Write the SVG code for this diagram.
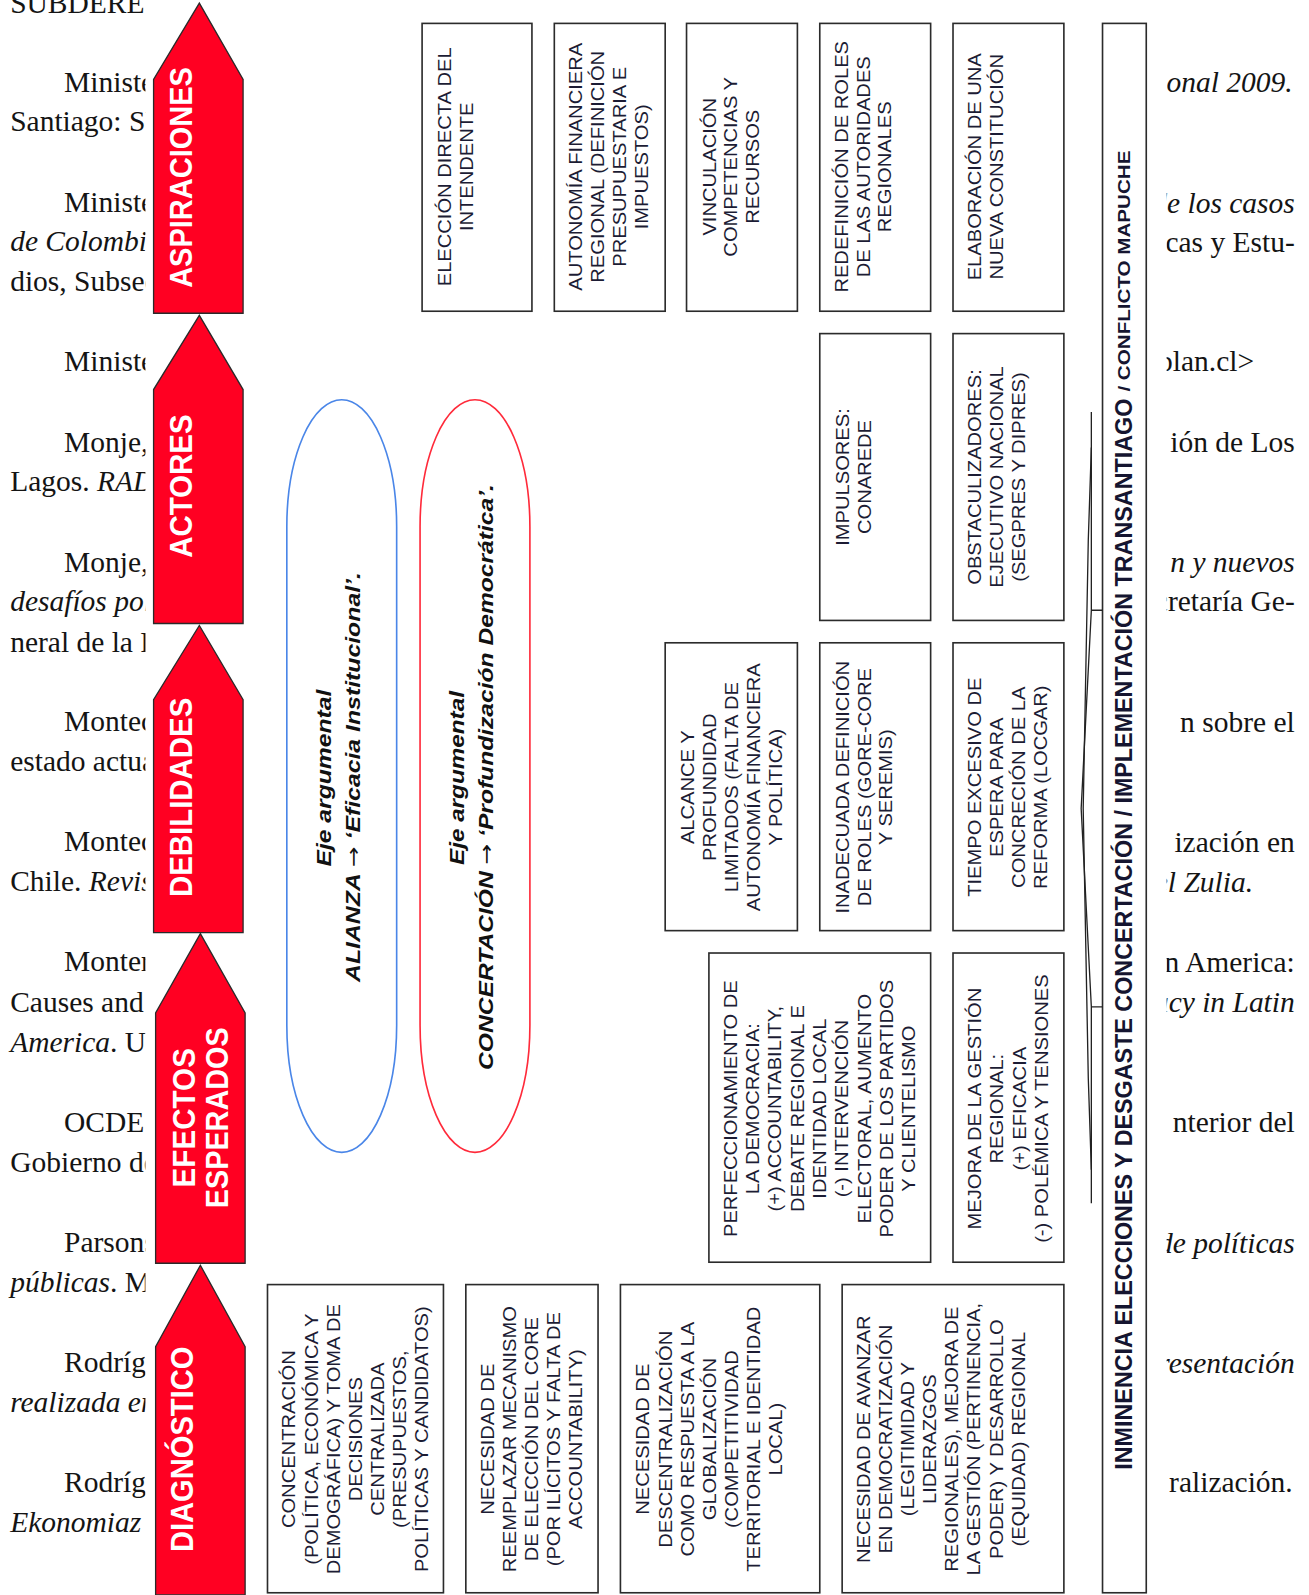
<svg xmlns="http://www.w3.org/2000/svg" width="1309" height="1595" viewBox="0 0 1309 1595">
<style>
.bib{font-family:"Liberation Serif","Times New Roman",serif;font-size:29px;fill:#141414}
.it{font-style:italic}
.arrow{fill:#ff0022;stroke:#2a2a2a;stroke-width:1.3}
.al{font-family:"Liberation Sans",Arial,sans-serif;font-weight:bold;font-size:31px;fill:#ffffff;text-anchor:middle}
.box{fill:#ffffff;stroke:#2b2b2b;stroke-width:1.6}
.bt{font-family:"Liberation Sans",Arial,sans-serif;font-size:18px;fill:#1c1c34;text-anchor:middle}
.et{font-family:"Liberation Sans",Arial,sans-serif;font-size:19px;font-weight:bold;font-style:italic;fill:#111;text-anchor:middle}
.ar{font-family:"DejaVu Sans",sans-serif;font-style:normal;font-weight:normal}
.tt{font-family:"Liberation Sans",Arial,sans-serif;font-weight:bold;fill:#151530}
.brace{fill:none;stroke:#222;stroke-width:1.3}
</style>
<defs>
<clipPath id="clipL"><rect x="0" y="0" width="143" height="1568"/></clipPath>
<clipPath id="clipR"><rect x="1147" y="0" width="140" height="1568"/></clipPath>
</defs>
<rect x="0" y="0" width="1309" height="1595" fill="#ffffff"/>
<g transform="scale(1.01709)">
<g id="bibliography-left" clip-path="url(#clipL)" class="bib">
<text x="10" y="13">SUBDERE</text>
<text x="63" y="90">Ministerio</text>
<text x="10" y="129">Santiago: SUBDERE</text>
<text x="63" y="208">Ministerio</text>
<text x="10" y="247" class="it">de Colombia</text>
<text x="10" y="286">dios, Subsecretaría</text>
<text x="63" y="365">Ministerio</text>
<text x="63" y="444">Monje, P.</text>
<text x="10" y="483">Lagos. <tspan class="it">RAD</tspan></text>
<text x="63" y="562">Monje, P.</text>
<text x="10" y="601" class="it">desafíos pol</text>
<text x="10" y="641">neral de la P</text>
<text x="63" y="719">Montecinos</text>
<text x="10" y="758">estado actual</text>
<text x="63" y="837">Montecinos</text>
<text x="10" y="876">Chile. <tspan class="it">Revista</tspan></text>
<text x="63" y="955">Montero</text>
<text x="10" y="995">Causes and</text>
<text x="10" y="1034"><tspan class="it">America</tspan>. U</text>
<text x="63" y="1113">OCDE</text>
<text x="10" y="1152">Gobierno de</text>
<text x="63" y="1231">Parsons</text>
<text x="10" y="1270"><tspan class="it">públicas</tspan>. M</text>
<text x="63" y="1349">Rodríguez</text>
<text x="10" y="1388" class="it">realizada en</text>
<text x="63" y="1467">Rodríguez</text>
<text x="10" y="1506" class="it">Ekonomiaz</text>
</g>
<g id="bibliography-right" clip-path="url(#clipR)" class="bib" text-anchor="end">
<text x="1271" y="90" class="it">onal 2009.</text>
<text x="1273" y="209" class="it">de los casos</text>
<text x="1273" y="248">icas y Estu-</text>
<text x="1233" y="365">plan.cl&gt;</text>
<text x="1273" y="444">ión de Los</text>
<text x="1273" y="562" class="it">n y nuevos</text>
<text x="1273" y="601">cretaría Ge-</text>
<text x="1273" y="720">n sobre el</text>
<text x="1273" y="838">ización en</text>
<text x="1232" y="877" class="it">del Zulia.</text>
<text x="1273" y="956">n America:</text>
<text x="1273" y="995" class="it">acy in Latin</text>
<text x="1273" y="1113">nterior del</text>
<text x="1273" y="1232" class="it">de políticas</text>
<text x="1273" y="1350" class="it">presentación</text>
<text x="1271" y="1467">ralización.</text>
</g>

<g id="arrow-aspiraciones">
<path class="arrow" d="M196,3 L239,78 L239,308 L151,308 L151,78 Z"/>
<text class="al" transform="translate(189,174.5) rotate(-90)" textLength="217" lengthAdjust="spacingAndGlyphs">ASPIRACIONES</text>
</g>
<g id="arrow-actores">
<path class="arrow" d="M196,310 L239,383 L239,613 L151,613 L151,383 Z"/>
<text class="al" transform="translate(189,478) rotate(-90)" textLength="141" lengthAdjust="spacingAndGlyphs">ACTORES</text>
</g>
<g id="arrow-debilidades">
<path class="arrow" d="M196,615 L239,688 L239,917 L151,917 L151,688 Z"/>
<text class="al" transform="translate(189,784) rotate(-90)" textLength="196" lengthAdjust="spacingAndGlyphs">DEBILIDADES</text>
</g>
<g id="arrow-efectos">
<path class="arrow" d="M197,918 L241,996 L241,1242 L153,1242 L153,996 Z"/>
<text class="al" transform="translate(192,1099) rotate(-90)" textLength="137" lengthAdjust="spacingAndGlyphs">EFECTOS</text>
<text class="al" transform="translate(224,1099) rotate(-90)" textLength="178" lengthAdjust="spacingAndGlyphs">ESPERADOS</text>
</g>
<g id="arrow-diagnostico">
<path class="arrow" d="M197,1244 L241,1324 L241,1568 L153,1568 L153,1324 Z"/>
<text class="al" transform="translate(190,1425) rotate(-90)" textLength="202" lengthAdjust="spacingAndGlyphs">DIAGNÓSTICO</text>
</g>

<g id="asp-1"><rect class="box" x="415" y="23" width="108" height="283"/>
<text class="bt" transform="translate(443.5,164) rotate(-90) scale(1.1,1)"><tspan x="0" y="0">ELECCIÓN DIRECTA DEL</tspan><tspan x="0" dy="21.5">INTENDENTE</tspan></text></g>
<g id="asp-2"><rect class="box" x="545" y="23" width="109" height="283"/>
<text class="bt" transform="translate(572.5,164) rotate(-90) scale(1.1,1)"><tspan x="0" y="0">AUTONOMÍA FINANCIERA</tspan><tspan x="0" dy="21.5">REGIONAL (DEFINICIÓN</tspan><tspan x="0" dy="21.5">PRESUPUESTARIA E</tspan><tspan x="0" dy="21.5">IMPUESTOS)</tspan></text></g>
<g id="asp-3"><rect class="box" x="675" y="23" width="109" height="283"/>
<text class="bt" transform="translate(703.5,164) rotate(-90) scale(1.1,1)"><tspan x="0" y="0">VINCULACIÓN</tspan><tspan x="0" dy="21.5">COMPETENCIAS Y</tspan><tspan x="0" dy="21.5">RECURSOS</tspan></text></g>
<g id="asp-4"><rect class="box" x="806" y="23" width="109" height="283"/>
<text class="bt" transform="translate(833.5,164) rotate(-90) scale(1.1,1)"><tspan x="0" y="0">REDEFINICIÓN DE ROLES</tspan><tspan x="0" dy="21.5">DE LAS AUTORIDADES</tspan><tspan x="0" dy="21.5">REGIONALES</tspan></text></g>
<g id="asp-5"><rect class="box" x="937" y="23" width="109" height="283"/>
<text class="bt" transform="translate(964.5,164) rotate(-90) scale(1.1,1)"><tspan x="0" y="0">ELABORACIÓN DE UNA</tspan><tspan x="0" dy="21.5">NUEVA CONSTITUCIÓN</tspan></text></g>

<g id="eje-alianza"><rect x="282" y="393" width="108" height="740" rx="54" ry="125" fill="none" stroke="#4a86e8" stroke-width="1.6"/>
<text class="et" transform="translate(325,765) rotate(-90)" textLength="174" lengthAdjust="spacingAndGlyphs">Eje argumental</text>
<text class="et" transform="translate(354,764) rotate(-90)" textLength="403" lengthAdjust="spacingAndGlyphs">ALIANZA <tspan class="ar">→</tspan> ‘Eficacia Institucional’.</text></g>
<g id="eje-concertacion"><rect x="413" y="393" width="108" height="740" rx="54" ry="125" fill="none" stroke="#ff2a3a" stroke-width="1.6"/>
<text class="et" transform="translate(456,765) rotate(-90)" textLength="171" lengthAdjust="spacingAndGlyphs">Eje argumental</text>
<text class="et" transform="translate(485,764) rotate(-90)" textLength="576" lengthAdjust="spacingAndGlyphs">CONCERTACIÓN <tspan class="ar">→</tspan> ‘Profundización Democrática’.</text></g>

<g id="act-impulsores"><rect class="box" x="806" y="328" width="109" height="282"/>
<text class="bt" transform="translate(834.5,469) rotate(-90) scale(1.1,1)"><tspan x="0" y="0">IMPULSORES:</tspan><tspan x="0" dy="21.5">CONAREDE</tspan></text></g>
<g id="act-obstaculizadores"><rect class="box" x="937" y="328" width="109" height="282"/>
<text class="bt" transform="translate(964.5,469) rotate(-90) scale(1.1,1)"><tspan x="0" y="0">OBSTACULIZADORES:</tspan><tspan x="0" dy="21.5">EJECUTIVO NACIONAL</tspan><tspan x="0" dy="21.5">(SEGPRES Y DIPRES)</tspan></text></g>

<g id="deb-1"><rect class="box" x="654" y="632" width="130" height="283"/>
<text class="bt" transform="translate(682.5,774) rotate(-90) scale(1.1,1)"><tspan x="0" y="0">ALCANCE Y</tspan><tspan x="0" dy="21.5">PROFUNDIDAD</tspan><tspan x="0" dy="21.5">LIMITADOS (FALTA DE</tspan><tspan x="0" dy="21.5">AUTONOMÍA FINANCIERA</tspan><tspan x="0" dy="21.5">Y POLÍTICA)</tspan></text></g>
<g id="deb-2"><rect class="box" x="806" y="632" width="109" height="283"/>
<text class="bt" transform="translate(834.5,774) rotate(-90) scale(1.1,1)"><tspan x="0" y="0">INADECUADA DEFINICIÓN</tspan><tspan x="0" dy="21.5">DE ROLES (GORE-CORE</tspan><tspan x="0" dy="21.5">Y SEREMIS)</tspan></text></g>
<g id="deb-3"><rect class="box" x="937" y="632" width="109" height="283"/>
<text class="bt" transform="translate(964.5,774) rotate(-90) scale(1.1,1)"><tspan x="0" y="0">TIEMPO EXCESIVO DE</tspan><tspan x="0" dy="21.5">ESPERA PARA</tspan><tspan x="0" dy="21.5">CONCRECIÓN DE LA</tspan><tspan x="0" dy="21.5">REFORMA (LOCGAR)</tspan></text></g>

<g id="efe-1"><rect class="box" x="697" y="937" width="218" height="304"/>
<text class="bt" transform="translate(724.5,1090) rotate(-90) scale(1.1,1)"><tspan x="0" y="0">PERFECCIONAMIENTO DE</tspan><tspan x="0" dy="21.9">LA DEMOCRACIA:</tspan><tspan x="0" dy="21.9">(+) ACCOUNTABILITY,</tspan><tspan x="0" dy="21.9">DEBATE REGIONAL E</tspan><tspan x="0" dy="21.9">IDENTIDAD LOCAL</tspan><tspan x="0" dy="21.9">(-) INTERVENCIÓN</tspan><tspan x="0" dy="21.9">ELECTORAL, AUMENTO</tspan><tspan x="0" dy="21.9">PODER DE LOS PARTIDOS</tspan><tspan x="0" dy="21.9">Y CLIENTELISMO</tspan></text></g>
<g id="efe-2"><rect class="box" x="937" y="937" width="109" height="304"/>
<text class="bt" transform="translate(964.5,1090) rotate(-90) scale(1.1,1)"><tspan x="0" y="0">MEJORA DE LA GESTIÓN</tspan><tspan x="0" dy="21.9">REGIONAL:</tspan><tspan x="0" dy="21.9">(+) EFICACIA</tspan><tspan x="0" dy="21.9">(-) POLÉMICA Y TENSIONES</tspan></text></g>

<g id="dia-1"><rect class="box" x="263" y="1263" width="173" height="303"/>
<text class="bt" transform="translate(290.5,1415) rotate(-90) scale(1.1,1)"><tspan x="0" y="0">CONCENTRACIÓN</tspan><tspan x="0" dy="21.8">(POLÍTICA, ECONÓMICA Y</tspan><tspan x="0" dy="21.8">DEMOGRÁFICA) Y TOMA DE</tspan><tspan x="0" dy="21.8">DECISIONES</tspan><tspan x="0" dy="21.8">CENTRALIZADA</tspan><tspan x="0" dy="21.8">(PRESUPUESTOS,</tspan><tspan x="0" dy="21.8">POLÍTICAS Y CANDIDATOS)</tspan></text></g>
<g id="dia-2"><rect class="box" x="458" y="1263" width="130" height="303"/>
<text class="bt" transform="translate(485.5,1415) rotate(-90) scale(1.1,1)"><tspan x="0" y="0">NECESIDAD DE</tspan><tspan x="0" dy="21.8">REEMPLAZAR MECANISMO</tspan><tspan x="0" dy="21.8">DE ELECCIÓN DEL CORE</tspan><tspan x="0" dy="21.8">(POR ILÍCITOS Y FALTA DE</tspan><tspan x="0" dy="21.8">ACCOUNTABILITY)</tspan></text></g>
<g id="dia-3"><rect class="box" x="610" y="1263" width="196" height="303"/>
<text class="bt" transform="translate(638.5,1415) rotate(-90) scale(1.1,1)"><tspan x="0" y="0">NECESIDAD DE</tspan><tspan x="0" dy="21.8">DESCENTRALIZACIÓN</tspan><tspan x="0" dy="21.8">COMO RESPUESTA A LA</tspan><tspan x="0" dy="21.8">GLOBALIZACIÓN</tspan><tspan x="0" dy="21.8">(COMPETITIVIDAD</tspan><tspan x="0" dy="21.8">TERRITORIAL E IDENTIDAD</tspan><tspan x="0" dy="21.8">LOCAL)</tspan></text></g>
<g id="dia-4"><rect class="box" x="828" y="1263" width="218" height="303"/>
<text class="bt" transform="translate(855.5,1415) rotate(-90) scale(1.1,1)"><tspan x="0" y="0">NECESIDAD DE AVANZAR</tspan><tspan x="0" dy="21.7">EN DEMOCRATIZACIÓN</tspan><tspan x="0" dy="21.7">(LEGITIMIDAD Y</tspan><tspan x="0" dy="21.7">LIDERAZGOS</tspan><tspan x="0" dy="21.7">REGIONALES), MEJORA DE</tspan><tspan x="0" dy="21.7">LA GESTIÓN (PERTINENCIA,</tspan><tspan x="0" dy="21.7">PODER) Y DESARROLLO</tspan><tspan x="0" dy="21.7">(EQUIDAD) REGIONAL</tspan></text></g>

<g id="contexto"><rect class="box" x="1084" y="23" width="43" height="1543"/>
<text class="tt" font-size="24" transform="translate(1113,1445) rotate(-90)" textLength="1053" lengthAdjust="spacingAndGlyphs">INMINENCIA ELECCIONES Y DESGASTE CONCERTACIÓN / IMPLEMENTACIÓN TRANSANTIAGO</text>
<text class="tt" font-size="16" transform="translate(1111,385) rotate(-90)" textLength="237" lengthAdjust="spacingAndGlyphs">/ CONFLICTO MAPUCHE</text></g>

<g id="connectors">
<path class="brace" d="M1073,405 L1073,600 L1063,795 L1073,990 L1073,1183"/>
<path class="brace" d="M1073,440 L1070,531 L1065,795 L1070,1060 L1073,1150"/>
<path class="brace" d="M1073,600 L1084,600 M1073,990 L1084,990"/>
</g>
</g>
</svg>
